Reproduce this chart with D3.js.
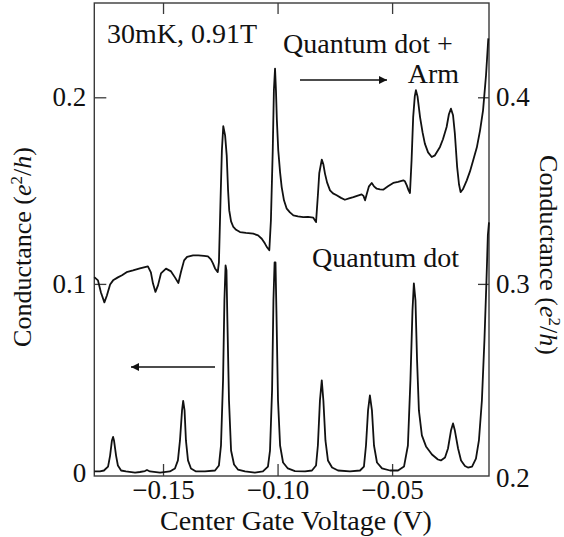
<!DOCTYPE html>
<html>
<head>
<meta charset="utf-8">
<script src="https://cdn.jsdelivr.net/npm/d3@7"></script>
<style>
  html, body { margin: 0; padding: 0; background: #fff; }
  svg { display: block; }
  svg text { font-family: "Liberation Serif", "DejaVu Serif", "Times New Roman", Times, serif; fill: #111; }
</style>
</head>
<body>
<svg id="chart" width="564" height="537"></svg>
<script>
// ---------------- data ----------------
// Lower trace: "Quantum dot" (left axis, e^2/h)
const dotVoltage = [-0.1800,-0.1775,-0.1758,-0.1740,-0.1731,-0.1723,-0.1718,-0.1714,-0.1705,-0.1697,-0.1683,-0.1662,-0.1622,-0.1601,-0.1579,-0.1570,-0.1557,-0.1513,-0.1470,-0.1448,-0.1435,-0.1426,-0.1417,-0.1412,-0.1406,-0.1400,-0.1391,-0.1378,-0.1356,-0.1317,-0.1273,-0.1256,-0.1247,-0.1238,-0.1232,-0.1227,-0.1223,-0.1219,-0.1212,-0.1203,-0.1190,-0.1173,-0.1142,-0.1099,-0.1064,-0.1042,-0.1033,-0.1024,-0.1018,-0.1013,-0.1009,-0.1005,-0.0998,-0.0989,-0.0976,-0.0955,-0.0924,-0.0880,-0.0850,-0.0832,-0.0824,-0.0815,-0.0807,-0.0800,-0.0791,-0.0780,-0.0762,-0.0736,-0.0684,-0.0640,-0.0623,-0.0614,-0.0605,-0.0597,-0.0588,-0.0579,-0.0566,-0.0544,-0.0509,-0.0474,-0.0448,-0.0431,-0.0420,-0.0411,-0.0405,-0.0398,-0.0391,-0.0383,-0.0370,-0.0352,-0.0326,-0.0300,-0.0287,-0.0269,-0.0256,-0.0243,-0.0234,-0.0226,-0.0212,-0.0199,-0.0182,-0.0169,-0.0151,-0.0134,-0.0121,-0.0108,-0.0097,-0.0088,-0.0082,-0.0077];
const dotConductance = [-0.0005,-0.0005,0.0000,0.0021,0.0080,0.0161,0.0180,0.0161,0.0080,0.0027,0.0000,-0.0005,-0.0011,-0.0008,-0.0003,0.0003,-0.0005,-0.0011,-0.0005,0.0011,0.0054,0.0161,0.0322,0.0373,0.0322,0.0161,0.0054,0.0011,-0.0005,-0.0005,0.0000,0.0027,0.0134,0.0483,0.0912,0.1099,0.1072,0.0804,0.0375,0.0107,0.0032,0.0005,-0.0005,-0.0011,-0.0005,0.0021,0.0107,0.0429,0.0912,0.1115,0.1115,0.0858,0.0375,0.0134,0.0043,0.0011,-0.0003,-0.0005,0.0000,0.0027,0.0134,0.0375,0.0483,0.0375,0.0161,0.0054,0.0016,0.0000,-0.0005,0.0000,0.0021,0.0134,0.0322,0.0402,0.0322,0.0134,0.0043,0.0011,0.0000,0.0000,0.0021,0.0134,0.0483,0.0858,0.1003,0.0912,0.0590,0.0322,0.0188,0.0129,0.0086,0.0059,0.0054,0.0070,0.0118,0.0214,0.0252,0.0214,0.0118,0.0054,0.0024,0.0016,0.0021,0.0064,0.0161,0.0375,0.0697,0.1019,0.1260,0.1330];

// Upper trace: "Quantum dot + Arm" (right axis, e^2/h)
const armVoltage = [-0.1800,-0.1784,-0.1771,-0.1756,-0.1745,-0.1731,-0.1718,-0.1697,-0.1679,-0.1659,-0.1631,-0.1601,-0.1566,-0.1553,-0.1544,-0.1533,-0.1522,-0.1509,-0.1487,-0.1465,-0.1448,-0.1433,-0.1422,-0.1408,-0.1395,-0.1369,-0.1346,-0.1321,-0.1304,-0.1291,-0.1282,-0.1273,-0.1261,-0.1256,-0.1249,-0.1243,-0.1237,-0.1229,-0.1222,-0.1216,-0.1211,-0.1203,-0.1193,-0.1181,-0.1164,-0.1138,-0.1106,-0.1085,-0.1069,-0.1055,-0.1046,-0.1036,-0.1029,-0.1021,-0.1016,-0.1011,-0.1007,-0.1003,-0.0997,-0.0989,-0.0982,-0.0972,-0.0960,-0.0946,-0.0931,-0.0911,-0.0888,-0.0867,-0.0844,-0.0832,-0.0824,-0.0818,-0.0807,-0.0800,-0.0793,-0.0784,-0.0771,-0.0758,-0.0742,-0.0723,-0.0706,-0.0688,-0.0669,-0.0653,-0.0633,-0.0625,-0.0618,-0.0610,-0.0601,-0.0589,-0.0579,-0.0567,-0.0553,-0.0539,-0.0518,-0.0495,-0.0474,-0.0451,-0.0444,-0.0436,-0.0428,-0.0422,-0.0415,-0.0408,-0.0401,-0.0396,-0.0389,-0.0378,-0.0367,-0.0357,-0.0343,-0.0327,-0.0313,-0.0291,-0.0278,-0.0262,-0.0252,-0.0243,-0.0234,-0.0226,-0.0216,-0.0208,-0.0201,-0.0191,-0.0174,-0.0160,-0.0146,-0.0130,-0.0116,-0.0103,-0.0090,-0.0080];
const armConductance = [0.3036,0.3019,0.2954,0.2901,0.2938,0.2997,0.3019,0.3035,0.3046,0.3063,0.3072,0.3083,0.3094,0.3062,0.3003,0.2957,0.2992,0.3056,0.3082,0.3067,0.3035,0.3005,0.3062,0.3126,0.3145,0.3153,0.3153,0.3150,0.3147,0.3131,0.3110,0.3083,0.3063,0.3115,0.3448,0.3716,0.3845,0.3796,0.3689,0.3501,0.3394,0.3335,0.3305,0.3290,0.3278,0.3273,0.3269,0.3260,0.3242,0.3216,0.3196,0.3180,0.3341,0.3716,0.4038,0.4154,0.4038,0.3877,0.3716,0.3598,0.3519,0.3448,0.3403,0.3383,0.3367,0.3362,0.3358,0.3359,0.3355,0.3331,0.3475,0.3593,0.3666,0.3641,0.3591,0.3544,0.3501,0.3485,0.3475,0.3461,0.3451,0.3458,0.3465,0.3472,0.3480,0.3472,0.3448,0.3485,0.3523,0.3541,0.3523,0.3510,0.3507,0.3505,0.3523,0.3541,0.3547,0.3555,0.3550,0.3528,0.3501,0.3487,0.3662,0.3894,0.4005,0.4038,0.4005,0.3894,0.3812,0.3752,0.3705,0.3680,0.3689,0.3734,0.3775,0.3841,0.3909,0.3939,0.3904,0.3805,0.3626,0.3534,0.3492,0.3507,0.3555,0.3603,0.3662,0.3732,0.3823,0.3930,0.4118,0.4316];

const xTicks = [-0.15, -0.10, -0.05];
const xTickLabels = ["\u22120.15", "\u22120.10", "\u22120.05"];
const leftTicks = [0, 0.1, 0.2];
const leftTickLabels = ["0", "0.1", "0.2"];
const rightTicks = [0.2, 0.3, 0.4];
const rightTickLabels = ["0.2", "0.3", "0.4"];

// ---------------- layout ----------------
const SERIF = '"Liberation Serif", "DejaVu Serif", "Times New Roman", Times, serif';
const svg = d3.select("#chart");
const plot = { left: 94.3, right: 489, top: 3, bottom: 476 };
const FONT = 27;

const x = d3.scaleLinear().domain([-0.18, -0.0077]).range([plot.left, plot.right]);
const yL = d3.scaleLinear().domain([0, 0.2]).range([470.5, 97.3]);
const yR = d3.scaleLinear().domain([0.2, 0.4]).range([470.5, 97.3]);

const frameColor = "#3a3a3a";

function styleAxis(g) {
  g.attr("font-family", SERIF).attr("font-size", FONT);
  g.select(".domain").remove();
  g.selectAll(".tick line").attr("stroke", frameColor).attr("stroke-width", 1.3);
  g.selectAll(".tick text").attr("fill", "#111")
    .style("font-size", FONT + "px").style("font-family", SERIF);
}

svg.append("g").attr("transform", `translate(0,${plot.bottom})`)
  .call(d3.axisBottom(x).tickValues(xTicks).tickSize(-12).tickPadding(4)
        .tickFormat((d, i) => xTickLabels[i]))
  .call(styleAxis);

svg.append("g").attr("transform", `translate(0,${plot.top})`)
  .call(d3.axisTop(x).tickValues(xTicks).tickSize(-11).tickFormat(""))
  .call(styleAxis);

svg.append("g").attr("transform", `translate(${plot.left},0)`)
  .call(d3.axisLeft(yL).tickValues(leftTicks).tickSize(-12).tickPadding(8)
        .tickFormat((d, i) => leftTickLabels[i]))
  .call(styleAxis)
  .call(g => g.selectAll(".tick").filter(d => d === 0).select("line").remove())
  .call(g => g.selectAll(".tick").filter(d => d === 0).select("text").attr("dy", "0.42em"));

svg.append("g").attr("transform", `translate(${plot.right},0)`)
  .call(d3.axisRight(yR).tickValues(rightTicks).tickSize(-11).tickPadding(7)
        .tickFormat((d, i) => rightTickLabels[i]))
  .call(styleAxis)
  .call(g => g.selectAll(".tick").filter(d => d === 0.2).select("line").remove())
  .call(g => g.selectAll(".tick").filter(d => d === 0.2).select("text").attr("dy", "0.58em"));

// Frame
svg.append("rect")
  .attr("x", plot.left).attr("y", plot.top)
  .attr("width", plot.right - plot.left).attr("height", plot.bottom - plot.top)
  .attr("fill", "none").attr("stroke", frameColor).attr("stroke-width", 1.4);

// Traces
const dotData = dotVoltage.map((v, i) => [v, dotConductance[i]]);
const armData = armVoltage.map((v, i) => [v, armConductance[i]]);

svg.append("path").datum(dotData)
  .attr("fill", "none").attr("stroke", "#111").attr("stroke-width", 1.8)
  .attr("stroke-linejoin", "round")
  .attr("d", d3.line().x(d => x(d[0])).y(d => yL(d[1])));

svg.append("path").datum(armData)
  .attr("fill", "none").attr("stroke", "#111").attr("stroke-width", 1.8)
  .attr("stroke-linejoin", "round")
  .attr("d", d3.line().x(d => x(d[0])).y(d => yR(d[1])));

// Axis titles
svg.append("text")
  .attr("x", 296).attr("y", 529.5)
  .attr("text-anchor", "middle").style("font-size", "28px").style("font-family", SERIF)
  .text("Center Gate Voltage (V)");

function condTitle(sel) {
  sel.append("tspan").text("Conductance (");
  sel.append("tspan").style("font-style", "italic").text("e");
  sel.append("tspan").attr("baseline-shift", "super").style("font-size", "17px").text("2");
  sel.append("tspan").text("/");
  sel.append("tspan").style("font-style", "italic").text("h");
  sel.append("tspan").text(")");
}

svg.append("text")
  .attr("transform", "translate(31,247) rotate(-90)")
  .attr("text-anchor", "middle").style("font-size", "26px").style("font-family", SERIF)
  .call(condTitle);

svg.append("text")
  .attr("transform", "translate(540,255) rotate(90)")
  .attr("text-anchor", "middle").style("font-size", "26px").style("font-family", SERIF)
  .call(condTitle);

// Annotations
const ann = svg.append("g").style("font-size", "28px").style("font-family", SERIF);
ann.append("text").attr("x", 107).attr("y", 43).text("30mK, 0.91T");
ann.append("text").attr("x", 283).attr("y", 53).text("Quantum dot +");
ann.append("text").attr("x", 459).attr("y", 83).attr("text-anchor", "end").text("Arm");
ann.append("text").attr("x", 459).attr("y", 267).attr("text-anchor", "end").text("Quantum dot");

// Arrows
svg.append("defs").append("marker")
  .attr("id", "head").attr("viewBox", "0 0 10 10")
  .attr("refX", 10).attr("refY", 5)
  .attr("markerWidth", 13).attr("markerHeight", 8)
  .attr("markerUnits", "userSpaceOnUse")
  .attr("orient", "auto")
  .append("path").attr("d", "M0,0 L10,5 L0,10 Z").attr("fill", "#111");

svg.append("line").attr("x1", 300).attr("y1", 80).attr("x2", 387).attr("y2", 80)
  .attr("stroke", "#111").attr("stroke-width", 1.4).attr("marker-end", "url(#head)");
svg.append("line").attr("x1", 215).attr("y1", 367).attr("x2", 131).attr("y2", 367)
  .attr("stroke", "#111").attr("stroke-width", 1.4).attr("marker-end", "url(#head)");
</script>
</body>
</html>
